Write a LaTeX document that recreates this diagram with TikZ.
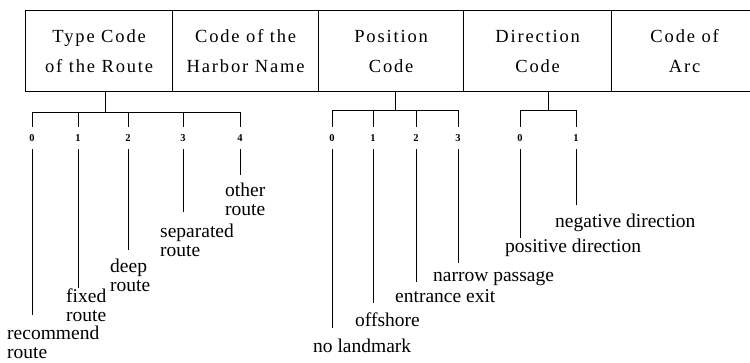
\documentclass[tikz,border=0pt]{standalone}
\usepackage{fontspec}
\setmainfont{Liberation Serif}
\newfontfamily\boxfont[LetterSpace=10]{Liberation Serif}
\begin{document}
\begin{tikzpicture}[x=1pt,y=-1pt,
  field/.style={draw, line width=1.3pt, minimum height=81pt, inner sep=0pt,
    anchor=north west, align=center, font=\boxfont\fontsize{18.5}{30}\selectfont},
  digit/.style={inner xsep=1pt, inner ysep=7.5pt, font=\bfseries\fontsize{10.5}{10.5}\selectfont},
  lab/.style={inner sep=0pt, anchor=base west, align=left, font=\fontsize{19.5}{19}\selectfont},
  wire/.style={line width=0.8pt}]
\useasboundingbox (0,0) rectangle (750,363);

% fields
\node[field, minimum width=147pt] (f1) at (25,10) {Type Code\\of the Route};
\node[field, minimum width=146pt] (f2) at (172,10) {Code of the\\Harbor Name};
\node[field, minimum width=145pt] (f3) at (318,10) {Position\\Code};
\node[field, minimum width=148pt] (f4) at (463,10) {Direction\\Code};
\node[field, minimum width=146pt] (f5) at (611,10) {Code of\\Arc};

% ---------- type code tree ----------
\coordinate (s1) at (105,112);
\coordinate (t10) at (32,112);
\coordinate (t11) at (78,112);
\coordinate (t12) at (128,112);
\coordinate (t13) at (183,112);
\coordinate (t14) at (240,112);
\draw[wire] (f1.south -| s1) -- (s1);
\draw[wire] (t10) -- (t14);
\node[digit] (d10) at (32,138) {0};
\node[digit] (d11) at (78,138) {1};
\node[digit] (d12) at (128,138) {2};
\node[digit] (d13) at (183,138) {3};
\node[digit] (d14) at (240,138) {4};
\coordinate (e10) at (32,315);
\coordinate (e11) at (78,288);
\coordinate (e12) at (128,250);
\coordinate (e13) at (183,212);
\coordinate (e14) at (240,175);
\foreach \i in {0,...,4}{
  \draw[wire] (t1\i) -- (d1\i.north);
  \draw[wire] (d1\i.south) -- (e1\i);
}
\node[lab] (l10) at (7,359) {recommend\\route};
\node[lab] (l11) at (66,322) {fixed\\route};
\node[lab] (l12) at (110,292) {deep\\route};
\node[lab] (l13) at (160,257) {separated\\route};
\node[lab] (l14) at (225,216) {other\\route};

% ---------- position code tree ----------
\coordinate (s2) at (395,110);
\coordinate (t20) at (332,110);
\coordinate (t21) at (373,110);
\coordinate (t22) at (416,110);
\coordinate (t23) at (458,110);
\draw[wire] (f3.south -| s2) -- (s2);
\draw[wire] (t20) -- (t23);
\node[digit] (d20) at (332,138) {0};
\node[digit] (d21) at (373,138) {1};
\node[digit] (d22) at (416,138) {2};
\node[digit] (d23) at (458,138) {3};
\coordinate (e20) at (332,328);
\coordinate (e21) at (373,303);
\coordinate (e22) at (416,282);
\coordinate (e23) at (458,263);
\foreach \i in {0,...,3}{
  \draw[wire] (t2\i) -- (d2\i.north);
  \draw[wire] (d2\i.south) -- (e2\i);
}
\node[lab] (l20) at (313,353) {no landmark};
\node[lab] (l21) at (355,327) {offshore};
\node[lab] (l22) at (395,303) {entrance exit};
\node[lab] (l23) at (433,282) {narrow passage};

% ---------- direction code tree ----------
\coordinate (s3) at (548,110);
\coordinate (t30) at (520,110);
\coordinate (t31) at (576,110);
\draw[wire] (f4.south -| s3) -- (s3);
\draw[wire] (t30) -- (t31);
\node[digit] (d30) at (520,138) {0};
\node[digit] (d31) at (576,138) {1};
\coordinate (e30) at (520,238);
\coordinate (e31) at (576,205);
\foreach \i in {0,1}{
  \draw[wire] (t3\i) -- (d3\i.north);
  \draw[wire] (d3\i.south) -- (e3\i);
}
\node[lab] (l30) at (505,253) {positive direction};
\node[lab] (l31) at (555,228) {negative direction};
\end{tikzpicture}
\end{document}
